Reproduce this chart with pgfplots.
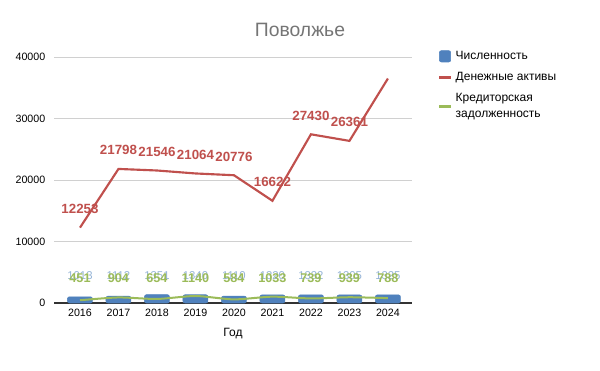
\documentclass[border=0pt]{standalone}
\usepackage{pgfplots}
\pgfplotsset{compat=1.18}
\usepackage{pgfplotstable}
\usepackage{fontspec}
\setmainfont{Liberation Sans}
\definecolor{cblue}{HTML}{4F81BD}
\definecolor{cred}{HTML}{C0504D}
\definecolor{cgreen}{HTML}{9BBB59}
\definecolor{cgrid}{HTML}{D0D0D0}
\definecolor{ctitle}{HTML}{757575}

\pgfplotstableread{
x year num money cred lab
0 2016 1013 12253 451 4230
1 2017 1112 21798 904 4230
2 2018 1351 21546 654 4230
3 2019 1340 21064 1140 4230
4 2020 1110 20776 584 4230
5 2021 1320 16622 1033 4230
6 2022 1332 27430 739 4230
7 2023 1305 26361 939 4230
8 2024 1325 36500 788 4230
}\data
\pgfplotstableread{
x money
0 12253
1 21798
2 21546
3 21064
4 20776
5 16622
6 27430
7 26361
}\labs

\begin{document}
\begin{tikzpicture}
\path[fill=white] (0,0) rectangle (450pt,278.25pt);
\node[text=ctitle, font=\fontsize{14.5pt}{17pt}\selectfont] at (225pt,256pt) {Поволжье};
\begin{axis}[
  at={(40.5pt,51pt)}, anchor=south west,
  scale only axis, width=268.5pt, height=184.5pt,
  xmin=-0.675, xmax=8.625, ymin=0, ymax=40000,
  xtick={0,...,8}, xticklabels={2016,2017,2018,2019,2020,2021,2022,2023,2024},
  ytick={0,10000,20000,30000,40000},
  scaled y ticks=false,
  /pgf/number format/assume math mode=true,
  /pgf/number format/fixed, /pgf/number format/1000 sep={},
  ymajorgrids, grid style={cgrid, line width=0.6pt},
  axis y line*=left, axis x line*=bottom,
  y axis line style={draw=none},
  x axis line style={draw=black!80, line width=0.8pt},
  major tick length=0pt,
  tick label style={font=\fontsize{8pt}{9pt}\selectfont, text=black},
  yticklabel style={xshift=-3pt},
  xticklabel style={yshift=-1pt},
  xlabel={Год}, xlabel style={font=\fontsize{9pt}{10pt}\selectfont, yshift=-2pt},
  legend style={at={(1.06,1.045)}, anchor=north west, draw=none, fill=none,
    font=\fontsize{9pt}{12pt}\selectfont, row sep=4pt, nodes={align=left}},
  legend cell align=left,
  clip=false,
]
\addplot[ybar, bar width=18.75pt, fill=cblue, draw=cblue, rounded corners=1.5pt,
  legend image code/.code={\fill[cblue] (0pt,-4pt) rectangle (8.5pt,4.5pt);}]
  table[x=x, y=num] {\data};
\addlegendentry{Численность}
\addplot[cred, line width=1.6pt,
  legend image code/.code={\draw[cred, line width=2.5pt] (0pt,0pt) -- (9pt,0pt);}]
  table[x=x, y=money] {\data};
\addlegendentry{Денежные активы}
\addplot[cgreen, line width=1.5pt, smooth, tension=0.4,
  legend image code/.code={\draw[cgreen, line width=2.5pt] (0pt,0pt) -- (9pt,0pt);}]
  table[x=x, y=cred] {\data};
\addlegendentry{Кредиторская\\задолженность}
% labels
\addplot[draw=none, mark=none, forget plot,
  nodes near coords, point meta=explicit,
  nodes near coords style={font=\fontsize{8.5pt}{10pt}\selectfont, text=cblue!60, anchor=center, yshift=1pt}]
  table[x=x, y=lab, meta=num] {\data};
\addplot[draw=none, mark=none, forget plot,
  nodes near coords, point meta=explicit,
  nodes near coords style={font=\bfseries\fontsize{9.5pt}{10pt}\selectfont, text=cgreen, anchor=center, yshift=-1pt}]
  table[x=x, y=lab, meta=cred] {\data};
\addplot[draw=none, mark=none, forget plot,
  nodes near coords, point meta=explicit,
  nodes near coords style={font=\bfseries\fontsize{10pt}{11pt}\selectfont, text=cred, anchor=south, yshift=7pt}]
  table[x=x, y=money, meta=money] {\labs};
\end{axis}
\end{tikzpicture}
\end{document}
